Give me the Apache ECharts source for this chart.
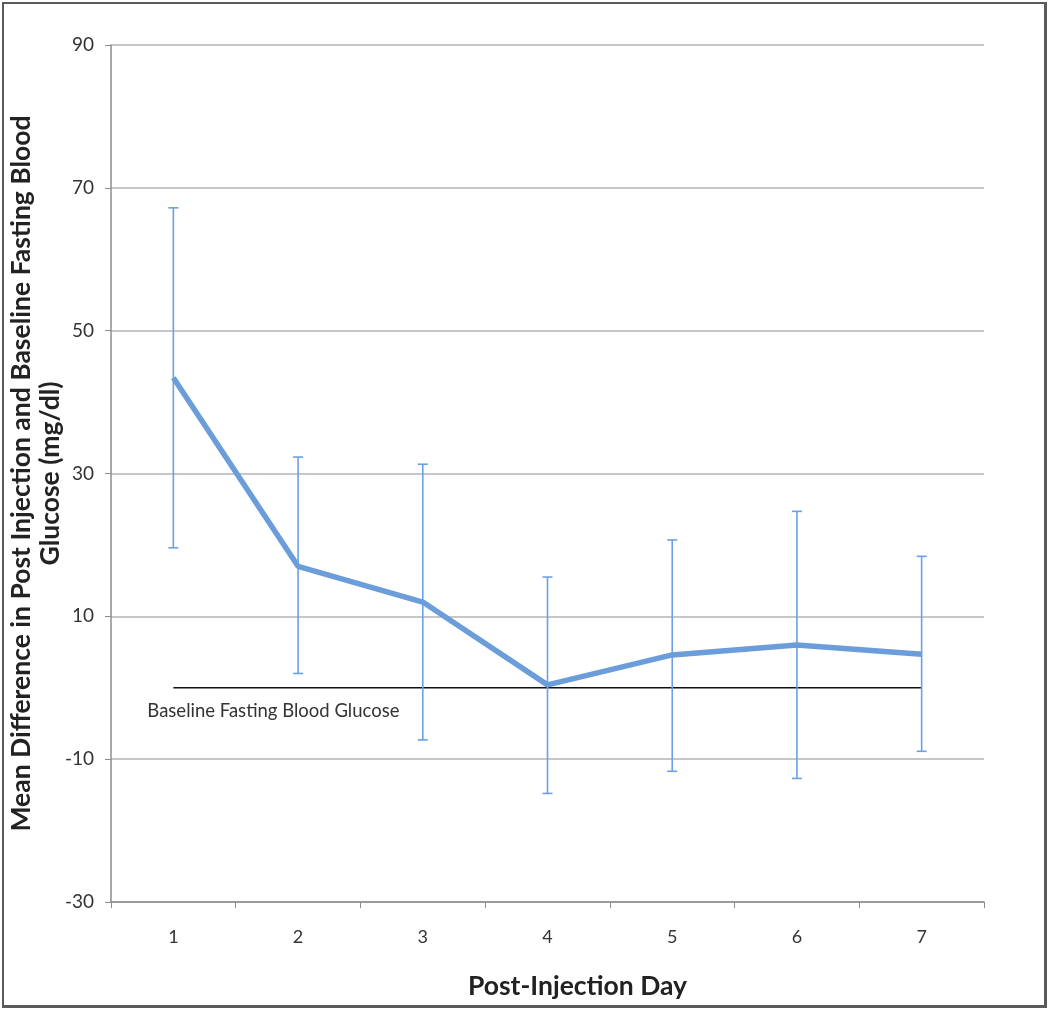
<!DOCTYPE html>
<html><head><meta charset="utf-8">
<script src="https://cdn.jsdelivr.net/npm/echarts@6/dist/echarts.min.js"></script>
<style>
html,body{margin:0;padding:0;background:#fff;}
#frame{position:absolute;left:2px;top:2px;width:1040px;height:1001px;border:3px solid #5a5a5a;border-top-width:2px;border-left-width:2px;box-sizing:content-box;}
#chart{position:absolute;left:0;top:0;width:1050px;height:1011px;}
</style></head>
<body>
<div id="chart"></div>
<div id="frame"></div>
<script>
const days = ['1','2','3','4','5','6','7'];
const meanDiff = [43.4, 17.0, 12.0, 0.4, 4.6, 6.0, 4.7];
const upperErr = [67.2, 32.3, 31.3, 15.5, 20.7, 24.7, 18.4];
const lowerErr = [19.6, 2.0, -7.3, -14.8, -11.7, -12.7, -8.9];
const baseline = [0, 0, 0, 0, 0, 0, 0];
const yTicks = {min: -30, max: 90, interval: 20};
const baselineLabel = 'Baseline Fasting Blood Glucose';

const chart = echarts.init(document.getElementById('chart'));
const font = 'Lato, "Open Sans", sans-serif';
const errData = days.map((d, i) => [i, lowerErr[i], upperErr[i]]);

chart.setOption({
  animation: false,
  grid: {left: 111, right: 66, top: 45, bottom: 109, outerBoundsMode: 'none', containLabel: false},
  xAxis: {
    type: 'category', data: days, boundaryGap: true,
    name: 'Post-Injection Day', nameLocation: 'middle', nameGap: 71, nameMoveOverlap: false,
    nameTextStyle: {fontFamily: font, fontWeight: 'bold', fontSize: 26.5, color: '#222', padding: [0, 0, 0, 60]},
    axisLine: {onZero: false, lineStyle: {color: '#8c8c8c', width: 1.5}},
    axisTick: {show: true, length: 6, lineStyle: {color: '#8c8c8c'}},
    axisLabel: {fontFamily: font, fontSize: 18, color: '#333', margin: 26},
    splitLine: {show: false}
  },
  yAxis: {
    type: 'value', min: yTicks.min, max: yTicks.max, interval: yTicks.interval,
    name: 'Mean Difference in Post Injection and Baseline Fasting Blood\nGlucose (mg/dl)',
    nameLocation: 'middle', nameGap: 46, nameRotate: 90, nameMoveOverlap: false,
    nameTextStyle: {fontFamily: font, fontWeight: 'bold', fontSize: 26.5, color: '#222', lineHeight: 29},
    axisLine: {show: true, lineStyle: {color: '#8c8c8c', width: 1.5}},
    axisTick: {show: true, length: 6, lineStyle: {color: '#8c8c8c'}},
    axisLabel: {fontFamily: font, fontSize: 19, color: '#333', margin: 17},
    splitLine: {lineStyle: {color: '#b4b4b4', width: 1.5}}
  },
  series: [
    {
      type: 'line', data: baseline, symbol: 'none', silent: true,
      lineStyle: {color: '#111', width: 1.5}, z: 2
    },
    {
      type: 'custom', data: errData, z: 3,
      encode: {x: 0, y: [1, 2]},
      renderItem: function (params, api) {
        const x = api.value(0);
        const lo = api.coord([x, api.value(1)]);
        const hi = api.coord([x, api.value(2)]);
        const cap = 5;
        const style = {stroke: '#6a9fea', lineWidth: 1.6, fill: null};
        return {type: 'group', children: [
          {type: 'line', shape: {x1: lo[0], y1: lo[1], x2: hi[0], y2: hi[1]}, style: style},
          {type: 'line', shape: {x1: hi[0]-cap, y1: hi[1], x2: hi[0]+cap, y2: hi[1]}, style: style},
          {type: 'line', shape: {x1: lo[0]-cap, y1: lo[1], x2: lo[0]+cap, y2: lo[1]}, style: style}
        ]};
      }
    },
    {
      type: 'line', data: meanDiff, symbol: 'none', z: 4,
      lineStyle: {color: '#6c9ddb', width: 5.5}
    }
  ]
});

const p = chart.convertToPixel({xAxisIndex: 0, yAxisIndex: 0}, [0, 0]);
chart.setOption({
  graphic: [{
    type: 'text', left: p[0] - 26, top: p[1] + 14,
    style: {text: baselineLabel, fontFamily: font, fontSize: 18.5, fill: '#333'}
  }]
});
</script>
</body></html>
